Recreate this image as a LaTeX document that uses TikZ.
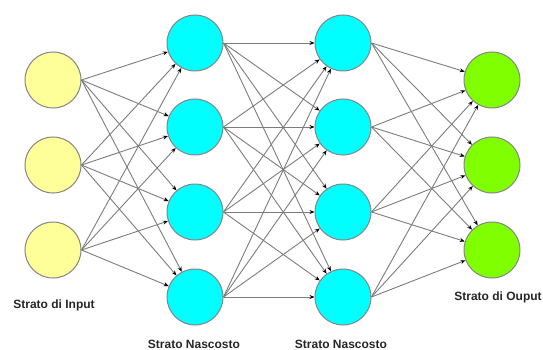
\documentclass[tikz,border=0pt]{standalone}
\usepackage{fontspec}
\setmainfont{Liberation Sans}
\usetikzlibrary{arrows.meta}
\definecolor{inyellow}{HTML}{FFFF99}
\definecolor{hidcyan}{HTML}{00FFFF}
\definecolor{outgreen}{HTML}{80FF00}
\definecolor{rimgray}{HTML}{858585}
\definecolor{wiregray}{HTML}{7C7C7C}
\begin{document}
\begin{tikzpicture}[x=1pt,y=-1pt,
  neuron/.style={circle,draw=rimgray,line width=1pt,minimum size=56pt,inner sep=0pt},
  inneuron/.style={neuron,fill=inyellow},
  hidneuron/.style={neuron,fill=hidcyan},
  outneuron/.style={neuron,fill=outgreen},
  wire/.style={draw=wiregray,line width=0.9pt,-{Stealth[length=5pt,width=4pt,color=black]}},
  layerlabel/.style={font=\fontsize{12}{14}\selectfont\bfseries,text=black!85}]
\useasboundingbox (0,0) rectangle (543,350);

% input layer
\foreach \i/\y in {1/80,2/165,3/250}
  \node[inneuron] (i\i) at (53,\y) {};
% first hidden layer
\foreach \i/\y in {1/43,2/127,3/212,4/297}
  \node[hidneuron] (h\i) at (195,\y) {};
% second hidden layer
\foreach \i/\y in {1/43,2/127,3/212,4/297}
  \node[hidneuron] (k\i) at (343,\y) {};
% output layer
\foreach \i/\y in {1/80,2/165,3/250}
  \node[outneuron] (o\i) at (492,\y) {};

% fully connected weights
\foreach \a in {1,2,3}
  \foreach \b in {1,2,3,4}
    \draw[wire] (i\a.east) -- (h\b);
\foreach \a in {1,2,3,4}
  \foreach \b in {1,2,3,4}
    \draw[wire] (h\a.east) -- (k\b);
\foreach \a in {1,2,3,4}
  \foreach \b in {1,2,3}
    \draw[wire] (k\a.east) -- (o\b);

% layer names
\node[layerlabel] (li) at (54,305) {Strato di Input};
\node[layerlabel] (lh1) at (194,344) {Strato Nascosto};
\node[layerlabel] (lh2) at (341,344) {Strato Nascosto};
\node[layerlabel] (lo) at (498,297) {Strato di Ouput};
\end{tikzpicture}
\end{document}
